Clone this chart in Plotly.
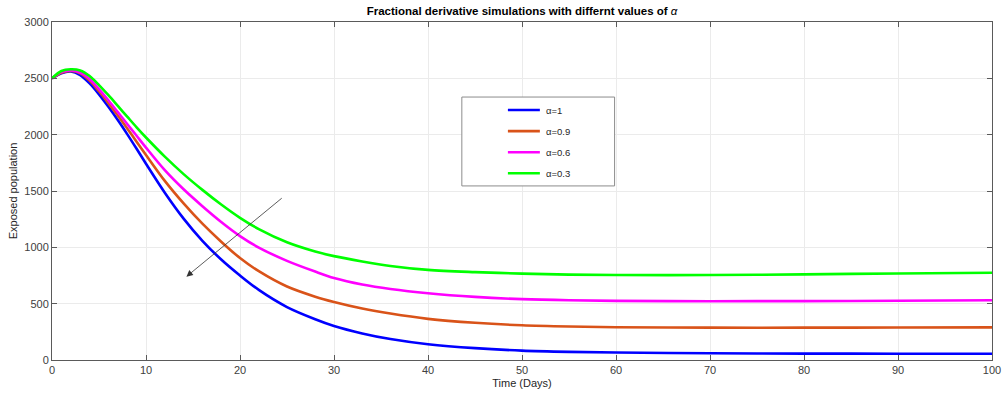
import plotly.graph_objects as go

t = [0, 1, 2, 3, 4, 5, 6, 7, 8, 9, 10, 12, 14, 16, 18, 20, 22, 25, 28, 30, 33, 36, 40, 45, 50, 55, 60, 70, 80, 90, 100]

e_a1 = [2500, 2545, 2560, 2528, 2455, 2358, 2248, 2130, 2005, 1875, 1742, 1485, 1255, 1058, 892, 750, 622, 470, 362, 302, 236, 186, 140, 105, 83, 72, 66, 60, 57, 56, 56]
e_a09 = [2500, 2550, 2565, 2545, 2480, 2385, 2280, 2170, 2055, 1938, 1820, 1590, 1390, 1210, 1050, 905, 788, 652, 562, 515, 457, 412, 365, 330, 308, 297, 291, 287, 287, 288, 290]
e_a06 = [2500, 2555, 2570, 2552, 2495, 2405, 2305, 2200, 2095, 1990, 1885, 1685, 1515, 1365, 1225, 1100, 998, 880, 785, 728, 670, 630, 592, 560, 540, 530, 525, 522, 523, 526, 530]
e_a03 = [2500, 2565, 2580, 2570, 2520, 2440, 2350, 2255, 2160, 2065, 1975, 1805, 1650, 1510, 1380, 1262, 1162, 1045, 963, 922, 875, 835, 800, 780, 767, 758, 754, 754, 760, 768, 775]

names = ["α=1", "α=0.9", "α=0.6", "α=0.3"]
series = [e_a1, e_a09, e_a06, e_a03]
colors = ["#0000ff", "#d95319", "#ff00ff", "#00ff00"]

x_ticks = [0, 10, 20, 30, 40, 50, 60, 70, 80, 90, 100]
y_ticks = [0, 500, 1000, 1500, 2000, 2500, 3000]

FONT = "Liberation Sans, Arial"

fig = go.Figure()
for name, ys, c in zip(names, series, colors):
    fig.add_trace(go.Scatter(x=t, y=ys, mode="lines", name=name,
                             line=dict(color=c, width=2.6, shape="spline", smoothing=0.9),
                             showlegend=False))

# manual legend (MATLAB style box)
lx0, lx1, ly0, ly1 = 0.436, 0.5985, 0.515, 0.778
fig.add_shape(type="rect", xref="paper", yref="paper", x0=lx0, x1=lx1, y0=ly0, y1=ly1,
              line=dict(color="#8c8c8c", width=1), fillcolor="white")
for i, (name, c) in enumerate(zip(names, colors)):
    yy = 0.7396 - i * 0.0624
    fig.add_shape(type="line", xref="paper", yref="paper", x0=0.485, x1=0.519, y0=yy, y1=yy,
                  line=dict(color=c, width=2.6))
    fig.add_annotation(xref="paper", yref="paper", x=0.523, y=yy, text=name, showarrow=False,
                       xanchor="left", yanchor="middle",
                       font=dict(family=FONT, size=9.5, color="#262626"))

# arrow
fig.add_annotation(x=14.3, y=740, ax=24.6, ay=1447, xref="x", yref="y", axref="x", ayref="y",
                   text="", showarrow=True, arrowhead=2, arrowsize=1.6, arrowwidth=0.8,
                   arrowcolor="#333333")

axis_common = dict(showgrid=True, gridcolor="#ebebeb", gridwidth=1, zeroline=False,
                   showline=True, linecolor="#5a5a5a", linewidth=1, mirror="ticks",
                   ticks="inside", ticklen=5, tickcolor="#5a5a5a", automargin=False,
                   tickfont=dict(family=FONT, size=11, color="#404040"))

fig.update_xaxes(range=[0, 100], tickvals=x_ticks, **axis_common,
                 title=dict(text="Time (Days)", standoff=4,
                            font=dict(family=FONT, size=11, color="#262626")))
fig.update_yaxes(range=[0, 3000], tickvals=y_ticks, **axis_common,
                 title=dict(text="Exposed population", standoff=4,
                            font=dict(family=FONT, size=11, color="#262626")))

fig.update_layout(
    width=1002, height=398,
    margin=dict(l=52, r=10, t=22, b=38, pad=0),
    paper_bgcolor="white", plot_bgcolor="white",
    title=dict(text="<b>Fractional derivative simulations with differnt values of </b><i>α</i>",
               x=0.521, xanchor="center", y=0.972, yanchor="middle", automargin=False,
               font=dict(family=FONT, size=11.5, color="#000000")),
)

fig.write_html("out.html", config={"displayModeBar": False},
               post_script="document.body.style.margin='0';document.body.style.padding='0';")
